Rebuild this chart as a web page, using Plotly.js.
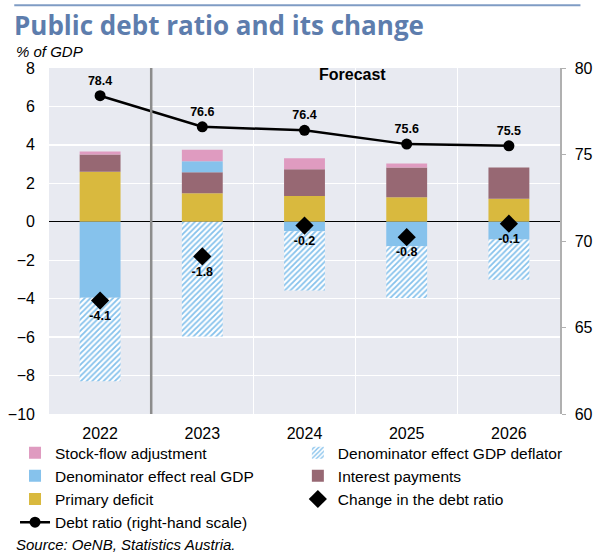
<!DOCTYPE html>
<html>
<head>
<meta charset="utf-8">
<script src="https://cdn.plot.ly/plotly-3.0.1.min.js"></script>
<style>
html,body{margin:0;padding:0;background:#fff;}
#chart{width:597px;height:553px;}
</style>
</head>
<body>
<div id="chart"></div>
<script>
var years = ['2022','2023','2024','2025','2026'];
var primaryDeficit = [2.6, 1.48, 1.34, 1.28, 1.2];
var interestPayments = [0.9, 1.1, 1.39, 1.54, 1.62];
var realGDP = [-3.95, 0.57, -0.49, -1.27, -0.92];
var stockFlow = [0.15, 0.6, 0.57, 0.21, 0];
var gdpDeflator = [-4.35, -5.97, -3.09, -2.69, -2.09];
var changeDebt = [-4.1, -1.8, -0.2, -0.8, -0.1];
var debtRatio = [78.4, 76.6, 76.4, 75.6, 75.5];
var changeLabels = ['-4.1','-1.8','-0.2','-0.8','-0.1'];
var debtLabels = ['78.4','76.6','76.4','75.6','75.5'];

var F = 'Liberation Sans, Arial, sans-serif';
var barW = 0.4;

var traces = [
  {type:'bar', name:'Primary deficit', x:years, y:primaryDeficit, width:barW,
   marker:{color:'#d9b93e', line:{width:0}}, legend:'legend', legendrank:3, hoverinfo:'skip'},
  {type:'bar', name:'Interest payments', x:years, y:interestPayments, width:barW,
   marker:{color:'#976873', line:{width:0}}, legend:'legend2', legendrank:2, hoverinfo:'skip'},
  {type:'bar', name:'Denominator effect real GDP', x:years, y:realGDP, width:barW,
   marker:{color:'#86c2ec', line:{width:0}}, legend:'legend', legendrank:2, hoverinfo:'skip'},
  {type:'bar', name:'Stock-flow adjustment', x:years, y:stockFlow, width:barW,
   marker:{color:'#df9bc0', line:{width:0}}, legend:'legend', legendrank:1, hoverinfo:'skip'},
  {type:'bar', name:'Denominator effect GDP deflator', x:years, y:gdpDeflator, width:barW,
   marker:{color:'#ffffff', line:{width:0},
     pattern:{shape:'/', fgcolor:'#86c2ec', bgcolor:'#ffffff', size:4, solidity:0.45, fillmode:'replace'}},
   legend:'legend2', legendrank:1, hoverinfo:'skip'},
  {type:'scatter', mode:'markers+text', name:'Change in the debt ratio', x:years, y:changeDebt,
   marker:{symbol:'diamond', size:14, color:'#000'},
   text:changeLabels, textposition:'bottom center',
   textfont:{family:F, size:12.5, color:'#000', weight:'bold'},
   legend:'legend2', legendrank:3, hoverinfo:'skip'},
  {type:'scatter', mode:'lines+markers+text', name:'Debt ratio (right-hand scale)', x:years, y:debtRatio,
   yaxis:'y2', line:{color:'#000', width:2.5}, marker:{symbol:'circle', size:11, color:'#000'},
   text:debtLabels, textposition:'top center',
   textfont:{family:F, size:12.5, color:'#000', weight:'bold'},
   legend:'legend', legendrank:4, hoverinfo:'skip'}
];

var legFont = {family:F, size:15.5, color:'#000'};
var layout = {
  width:597, height:553,
  margin:{l:49, r:37, t:68, b:139, autoexpand:false},
  paper_bgcolor:'#ffffff', plot_bgcolor:'#e8eaf1',
  barmode:'relative',
  font:{family:F, size:16, color:'#000'},
  showlegend:true,
  legend:{orientation:'v', x:-0.0665, xanchor:'left', y:-0.064, yanchor:'top',
    traceorder:'normal', font:legFont, bgcolor:'rgba(0,0,0,0)', itemwidth:30, tracegroupgap:0},
  legend2:{orientation:'v', x:0.487, xanchor:'left', y:-0.064, yanchor:'top',
    traceorder:'normal', font:legFont, bgcolor:'rgba(0,0,0,0)', itemwidth:30, tracegroupgap:0},
  xaxis:{type:'category', tickson:'boundaries', showgrid:true, gridcolor:'#ffffff', gridwidth:1.3,
    ticks:'', showline:false, tickfont:{family:F, size:16}, ticklabelstandoff:8, fixedrange:true},
  yaxis:{range:[-10,8], dtick:2, tick0:0, showgrid:true, gridcolor:'#ffffff', gridwidth:1.3,
    zeroline:true, zerolinecolor:'#000', zerolinewidth:1.2, ticks:'', showline:false,
    tickfont:{family:F, size:16}, ticklabelstandoff:13, fixedrange:true},
  yaxis2:{range:[60,80], dtick:5, overlaying:'y', side:'right', showgrid:false, zeroline:false,
    showline:true, linecolor:'#b0b0b0', linewidth:1.5, ticks:'outside', ticklen:4, tickcolor:'#b0b0b0',
    tickfont:{family:F, size:16}, ticklabelstandoff:6, fixedrange:true},
  shapes:[
    {type:'line', xref:'x', yref:'paper', x0:0.5, x1:0.5, y0:0, y1:1, line:{color:'#8c8c8c', width:2.5}},
    {type:'line', xref:'paper', yref:'paper', x0:-0.068, x1:1.04, y0:1.181, y1:1.181, line:{color:'#7f9cc4', width:2}}
  ],
  annotations:[
    {xref:'x', yref:'y', x:2.47, y:7.68, text:'<b>Forecast</b>', showarrow:false,
     font:{family:F, size:16, color:'#000'}, xanchor:'center', yanchor:'middle'},
    {xref:'paper', yref:'paper', x:-0.072, y:1.123, text:'<b>Public debt ratio and its change</b>', showarrow:false,
     font:{family:'Open Sans, Lato, sans-serif', size:26, color:'#5d7dad'}, xanchor:'left', yanchor:'middle'},
    {xref:'paper', yref:'paper', x:-0.068, y:1.048, text:'<i>% of GDP</i>', showarrow:false,
     font:{family:F, size:15, color:'#000'}, xanchor:'left', yanchor:'middle'},
    {xref:'paper', yref:'paper', x:-0.068, y:-0.378, text:'<i>Source: OeNB, Statistics Austria.</i>', showarrow:false,
     font:{family:F, size:15, color:'#000'}, xanchor:'left', yanchor:'middle'}
  ]
};

Plotly.newPlot('chart', traces, layout, {staticPlot:true, displayModeBar:false});
</script>
</body>
</html>
